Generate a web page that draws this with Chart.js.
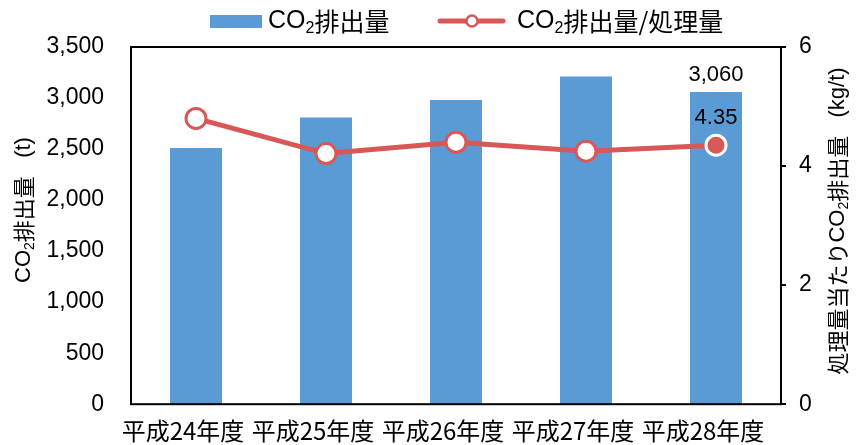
<!DOCTYPE html>
<html>
<head>
<meta charset="utf-8">
<script src="https://cdn.jsdelivr.net/npm/chart.js@4"></script>
<style>
  html, body { margin: 0; padding: 0; background: #fff; }
  #chart { display: block; }
</style>
</head>
<body>
<canvas id="chart" width="862" height="445"></canvas>
<script>
// データ
const nendo = ['平成24年度', '平成25年度', '平成26年度', '平成27年度', '平成28年度'];
const haishutsu = [2510, 2810, 2980, 3210, 3060];          // CO2排出量 (t)
const tanni = [4.80, 4.21, 4.40, 4.25, 4.35];              // CO2排出量/処理量 (kg/t)
const leftTicks = [0, 500, 1000, 1500, 2000, 2500, 3000, 3500];
const rightTicks = [0, 2, 4, 6];

const BAR_COLOR = '#5B9BD5';
const LINE_COLOR = '#D85757';
const FONT_NUM = '"Liberation Sans", Arial, sans-serif';
const FONT_JP = '"Noto Sans CJK JP", "Noto Sans", sans-serif';
const FS = 23;

// CO2 の「2」を下付きで描くための簡単なリッチテキスト
function richWidth(ctx, parts, size) {
  let w = 0;
  parts.forEach(p => {
    ctx.font = (p.sub ? Math.round(size * 0.65) : size) + 'px ' + (p.num ? FONT_NUM : FONT_JP);
    w += ctx.measureText(p.t).width;
  });
  return w;
}
function drawRich(ctx, parts, x, y, size) {
  let cx = x;
  ctx.textBaseline = 'middle';
  ctx.textAlign = 'left';
  parts.forEach(p => {
    const s = p.sub ? Math.round(size * 0.65) : size;
    ctx.font = s + 'px ' + (p.num ? FONT_NUM : FONT_JP);
    ctx.fillText(p.t, cx, p.sub ? y + size * 0.3 : y);
    cx += ctx.measureText(p.t).width;
  });
}

const leftTitle = [{ t: 'CO', num: true }, { t: '2', sub: true, num: true }, { t: '排出量' }, { t: '   (t)', num: true }];
const rightTitle = [{ t: '処理量当たり' }, { t: 'CO', num: true }, { t: '2', sub: true, num: true }, { t: '排出量' }, { t: '   (kg/t)', num: true }];
const legendBar = [{ t: 'CO', num: true }, { t: '2', sub: true, num: true }, { t: '排出量' }];
const legendLine = [{ t: 'CO', num: true }, { t: '2', sub: true, num: true }, { t: '排出量/処理量' }];

const extras = {
  id: 'extras',
  afterDatasetsDraw(chart) {
    const ctx = chart.ctx;
    const a = chart.chartArea;
    ctx.save();

    // 枠線
    ctx.strokeStyle = '#000';
    ctx.lineWidth = 2;
    ctx.strokeRect(a.left, a.top, a.right - a.left, a.bottom - a.top);

    // データラベル(最終年度)
    const last = haishutsu.length - 1;
    const bar = chart.getDatasetMeta(0).data[last];
    const pt = chart.getDatasetMeta(1).data[last];
    ctx.fillStyle = '#000';
    ctx.font = '22px ' + FONT_NUM;
    ctx.textAlign = 'center';
    ctx.textBaseline = 'middle';
    ctx.fillText(haishutsu[last].toLocaleString('en-US'), bar.x, bar.y - 17);
    ctx.fillText(tanni[last].toFixed(2), pt.x, pt.y - 27);

    // 軸タイトル
    ctx.save();
    const lw = richWidth(ctx, leftTitle, 22);
    ctx.translate(24, 210);
    ctx.rotate(-Math.PI / 2);
    drawRich(ctx, leftTitle, -lw / 2, 0, 22);
    ctx.restore();

    ctx.save();
    const rw = richWidth(ctx, rightTitle, 22);
    ctx.translate(838, 221);
    ctx.rotate(-Math.PI / 2);
    drawRich(ctx, rightTitle, -rw / 2, 0, 22);
    ctx.restore();

    // 凡例
    ctx.fillStyle = BAR_COLOR;
    ctx.fillRect(210, 15, 52, 13);
    ctx.fillStyle = '#000';
    drawRich(ctx, legendBar, 268, 21, 25);

    ctx.strokeStyle = LINE_COLOR;
    ctx.lineWidth = 5;
    ctx.lineCap = 'round';
    ctx.beginPath();
    ctx.moveTo(440, 21);
    ctx.lineTo(503, 21);
    ctx.stroke();
    ctx.beginPath();
    ctx.arc(472, 21, 5.5, 0, Math.PI * 2);
    ctx.fillStyle = '#fff';
    ctx.fill();
    ctx.lineWidth = 2.5;
    ctx.stroke();
    ctx.fillStyle = '#000';
    drawRich(ctx, legendLine, 517, 21, 25);

    ctx.restore();
  }
};

const pointFill = tanni.map((v, i) => i === tanni.length - 1 ? LINE_COLOR : '#fff');
const pointEdge = tanni.map((v, i) => i === tanni.length - 1 ? '#fff' : LINE_COLOR);

new Chart(document.getElementById('chart'), {
  data: {
    labels: nendo,
    datasets: [
      {
        type: 'bar',
        label: 'CO2排出量',
        data: haishutsu,
        backgroundColor: BAR_COLOR,
        categoryPercentage: 1,
        barPercentage: 0.4,
        yAxisID: 'y',
        order: 2
      },
      {
        type: 'line',
        label: 'CO2排出量/処理量',
        data: tanni,
        borderColor: LINE_COLOR,
        borderWidth: 5,
        pointRadius: 10,
        pointBorderWidth: 3,
        pointBackgroundColor: pointFill,
        pointBorderColor: pointEdge,
        tension: 0,
        yAxisID: 'y2',
        order: 1
      }
    ]
  },
  options: {
    responsive: false,
    animation: false,
    events: [],
    layout: { padding: { top: 47, left: 0, right: 0, bottom: 0 } },
    plugins: { legend: { display: false }, tooltip: { enabled: false } },
    scales: {
      x: {
        grid: { display: false, drawTicks: false },
        border: { display: false },
        ticks: {
          color: '#000', font: { family: FONT_JP, size: 24 }, padding: 12,
          labelOffset: -13, maxRotation: 0, autoSkip: false
        },
        afterFit(s) { s.height = 39; }
      },
      y: {
        position: 'left',
        min: 0,
        max: 3500,
        afterBuildTicks(s) { s.ticks = leftTicks.map(v => ({ value: v })); },
        grid: { display: false, drawTicks: false },
        border: { display: false },
        ticks: {
          color: '#000',
          font: { family: FONT_NUM, size: FS },
          padding: 27,
          callback: v => v.toLocaleString('en-US')
        },
        afterFit(s) { s.width = 131; }
      },
      y2: {
        position: 'right',
        min: 0,
        max: 6,
        afterBuildTicks(s) { s.ticks = rightTicks.map(v => ({ value: v })); },
        grid: { display: true, drawOnChartArea: false, tickLength: 5, color: '#000', lineWidth: 2 },
        border: { display: false },
        ticks: { color: '#000', font: { family: FONT_NUM, size: FS }, padding: 13 },
        afterFit(s) { s.width = 81; }
      }
    }
  },
  plugins: [extras]
});
</script>
</body>
</html>
